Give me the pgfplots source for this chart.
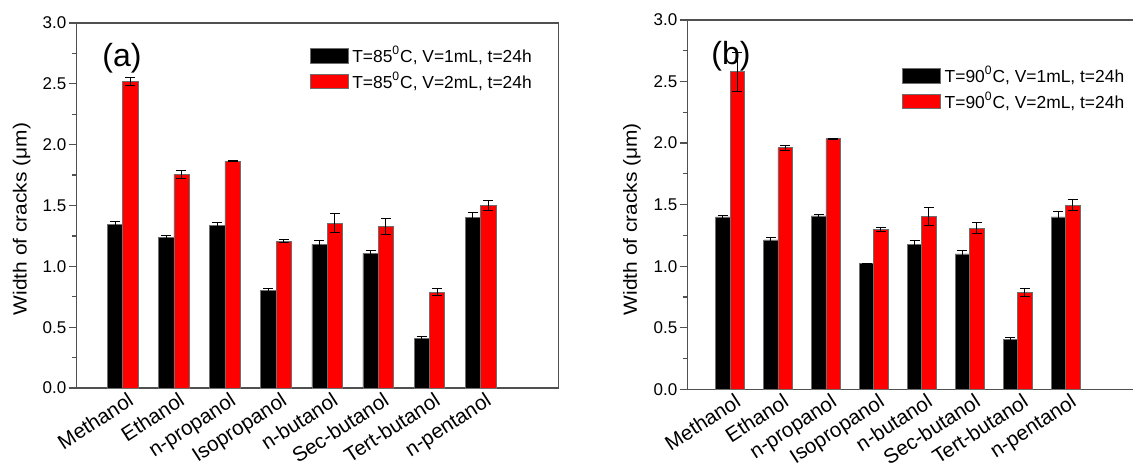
\documentclass[border=0pt]{standalone}
\usepackage{fontspec}
\setmainfont{Liberation Sans}
\usepackage{graphicx}
\usepackage{pgfplots}
\pgfplotsset{compat=1.18}
\definecolor{myred}{RGB}{255,0,0}
\definecolor{axgray}{RGB}{80,80,80}
\definecolor{edgegray}{RGB}{110,110,110}
\newcommand{\xtf}{\fontsize{10.3}{12}\selectfont}

\pgfplotsset{
  crackstyle/.style={
    scale only axis,
    ymin=0, ymax=3,
    ytick={0,0.5,1,1.5,2,2.5,3},
    minor y tick num=1,
    /pgf/number format/assume math mode=true,
    yticklabel style={/pgf/number format/fixed, /pgf/number format/fixed zerofill, /pgf/number format/precision=1, font=\fontsize{8.5}{10}\selectfont, inner sep=1pt},
    tick align=outside,
    ytick pos=left,
    major tick length=4pt, minor tick length=2.5pt,
    y tick style={draw=axgray, line width=0.6pt},
    xtick={0,...,7},
    xticklabels={Methanol,Ethanol,n-propanol,Isopropanol,n-butanol,Sec-butanol,Tert-butanol,n-pentanol},
    x tick style={draw=none},
    x tick label style={yshift=2.5pt, xshift=2pt, rotate=33, anchor=north east, font=\xtf, inner sep=0pt},
    axis line style={draw=axgray, line width=0.7pt},
    ybar, bar width=0.3,
    every axis plot post/.append style={
      legend image code/.code={\draw[##1] (0pt,-3.6pt) rectangle (19pt,3.6pt);},
      draw=edgegray, line width=0.3pt,
      error bars/y dir=both, error bars/y explicit,
      error bars/error bar style={line width=0.5pt, draw=black, solid},
      error bars/error mark options={rotate=90, mark size=2.5pt, line width=0.5pt, draw=black},
    },
    legend style={draw=none, fill=none, font=\fontsize{8.7}{10}\selectfont, inner sep=0pt, row sep=0pt, column sep=2pt,
      nodes={inner sep=0pt, minimum height=12.75pt}},
    legend cell align=left,
    ylabel={\scalebox{1.1}[1]{Width of cracks (μm)}},
    ylabel style={font=\fontsize{9.5}{11}\selectfont, anchor=center},
  }
}

\begin{document}
\begin{tikzpicture}
\useasboundingbox (0,0) rectangle (566.5pt,232.5pt);
% Panel (a)
\begin{axis}[crackstyle,
  at={(38.35pt,38.5pt)}, anchor=south west,
  width=241pt, height=182.5pt,
  xmin=-0.9, xmax=8.53,
  ylabel style={at={(axis description cs:-0.114,0.463)}},
  legend style={at={(axis description cs:0.4826,0.9458)}, anchor=north west},
]
\addplot[fill=black, bar shift=-0.15] coordinates {
(0,1.345) +- (0,0.02)
(1,1.24) +- (0,0.015)
(2,1.337) +- (0,0.02)
(3,0.803) +- (0,0.015)
(4,1.18) +- (0,0.03)
(5,1.107) +- (0,0.025)
(6,0.405) +- (0,0.02)
(7,1.40) +- (0,0.045)
};
\addplot[fill=myred, bar shift=0.15] coordinates {
(0,2.52) +- (0,0.03)
(1,1.756) +- (0,0.03)
(2,1.863) +- (0,0.005)
(3,1.208) +- (0,0.015)
(4,1.356) +- (0,0.08)
(5,1.329) +- (0,0.065)
(6,0.789) +- (0,0.03)
(7,1.498) +- (0,0.04)
};
\legend{T=85\textsuperscript{0}C{,} V=1mL{,} t=24h, T=85\textsuperscript{0}C{,} V=2mL{,} t=24h}
\node[font=\fontsize{16}{18}\selectfont] at (axis description cs:0.094,0.904) {(a)};
\end{axis}
% Panel (b)
\begin{axis}[crackstyle,
  at={(343.85pt,37.85pt)}, anchor=south west,
  width=222.65pt, height=184.65pt,
  xmin=-0.883, xmax=8.41,
  axis x line*=box, axis y line*=left,
  ylabel style={at={(axis description cs:-0.125,0.461)}},
  legend style={at={(axis description cs:0.4806,0.884)}, anchor=north west},
]
\addplot[fill=black, bar shift=-0.15] coordinates {
(0,1.40) +- (0,0.015)
(1,1.213) +- (0,0.02)
(2,1.408) +- (0,0.01)
(3,1.02) +- (0,0.005)
(4,1.175) +- (0,0.03)
(5,1.10) +- (0,0.025)
(6,0.403) +- (0,0.02)
(7,1.40) +- (0,0.045)
};
\addplot[fill=myred, bar shift=0.15] coordinates {
(0,2.58) +- (0,0.16)
(1,1.963) +- (0,0.02)
(2,2.036) +- (0,0.005)
(3,1.297) +- (0,0.015)
(4,1.402) +- (0,0.075)
(5,1.308) +- (0,0.045)
(6,0.785) +- (0,0.03)
(7,1.495) +- (0,0.045)
};
\legend{T=90\textsuperscript{0}C{,} V=1mL{,} t=24h, T=90\textsuperscript{0}C{,} V=2mL{,} t=24h}
\node[font=\fontsize{16}{18}\selectfont] at (axis description cs:0.097,0.9025) {(b)};
\end{axis}
\end{tikzpicture}
\end{document}
